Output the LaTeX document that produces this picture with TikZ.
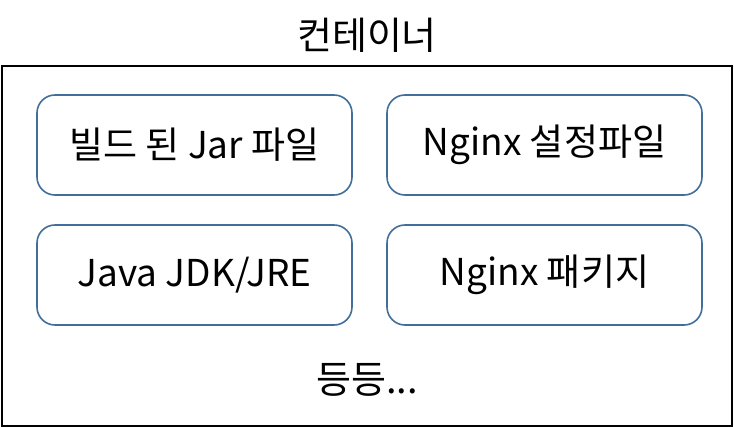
\documentclass[tikz,border=0pt]{standalone}
\usepackage{fontspec}
\setmainfont{Noto Sans CJK KR}
\usetikzlibrary{positioning}
\definecolor{boxblue}{RGB}{65, 110, 155}

\begin{document}
\begin{tikzpicture}[x=1pt, y=-1pt,
  part/.style={draw=boxblue, line width=1.6pt, rounded corners=18pt, minimum width=315pt, minimum height=100pt, inner sep=0pt, font=\fontsize{37}{42}\selectfont},
  lbl/.style={inner sep=0pt, font=\fontsize{38}{43}\selectfont}
]
  \useasboundingbox (0,0) rectangle (734,428);
  \draw[line width=2pt] (2,66) rectangle (732,426);
  \node[lbl] (title) at (367,35) {컨테이너};

  \node[part] (jar) at (194.5,145) {빌드 된 Jar 파일};
  \node[part] (conf) at (544.5,145) {Nginx 설정파일};
  \node[part] (jdk) at (194.5,275) {Java JDK/JRE};
  \node[part] (pkg) at (544.5,275) {Nginx 패키지};

  \node[lbl] (etc) at (367,380) {등등...};
\end{tikzpicture}
\end{document}
